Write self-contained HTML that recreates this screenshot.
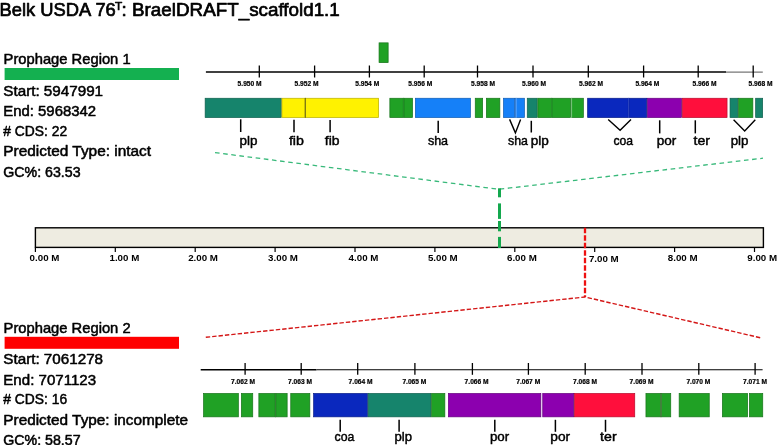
<!DOCTYPE html>
<html lang="en"><head><meta charset="utf-8"><title>Belk USDA 76T prophage regions</title>
<style>html,body{margin:0;padding:0;background:#fff;}svg{display:block;}text{filter:url(#gs);font-family:'Liberation Sans', sans-serif;fill:#000;}</style>
</head><body>
<svg width="778" height="445" viewBox="0 0 778 445">
<defs><filter id="gs" x="-5%" y="-20%" width="110%" height="140%" color-interpolation-filters="sRGB"><feColorMatrix type="saturate" values="0"/></filter></defs>
<rect x="0" y="0" width="778" height="445" fill="#ffffff"/>
<text x="-0.4" y="15.8" font-size="18.7" font-weight="normal" textLength="116.2" lengthAdjust="spacingAndGlyphs" stroke="#000" stroke-width="0.7" stroke-linejoin="round">Belk USDA 76</text>
<text x="115.0" y="9.5" font-size="11.8" font-weight="normal" textLength="7.2" lengthAdjust="spacingAndGlyphs" stroke="#000" stroke-width="0.7" stroke-linejoin="round">T</text>
<text x="121.6" y="15.8" font-size="18.7" font-weight="normal" textLength="218.2" lengthAdjust="spacingAndGlyphs" stroke="#000" stroke-width="0.7" stroke-linejoin="round">: BraelDRAFT_scaffold1.1</text>
<text x="3.6" y="64.2" font-size="14.6" font-weight="normal" textLength="127.0" lengthAdjust="spacingAndGlyphs" stroke="#000" stroke-width="0.5" stroke-linejoin="round">Prophage Region 1</text>
<rect x="4.6" y="68.0" width="174.4" height="12.0" fill="#14b050" />
<text x="3.3" y="95.6" font-size="14" font-weight="normal" textLength="99.8" lengthAdjust="spacingAndGlyphs" stroke="#000" stroke-width="0.5" stroke-linejoin="round">Start: 5947991</text>
<text x="3.3" y="116.0" font-size="14" font-weight="normal" textLength="92.8" lengthAdjust="spacingAndGlyphs" stroke="#000" stroke-width="0.5" stroke-linejoin="round">End: 5968342</text>
<text x="3.3" y="135.6" font-size="14" font-weight="normal" textLength="63.8" lengthAdjust="spacingAndGlyphs" stroke="#000" stroke-width="0.5" stroke-linejoin="round"># CDS: 22</text>
<text x="3.3" y="156.3" font-size="14" font-weight="normal" textLength="147.8" lengthAdjust="spacingAndGlyphs" stroke="#000" stroke-width="0.5" stroke-linejoin="round">Predicted Type: intact</text>
<text x="3.3" y="176.6" font-size="14" font-weight="normal" textLength="77.3" lengthAdjust="spacingAndGlyphs" stroke="#000" stroke-width="0.5" stroke-linejoin="round">GC%: 63.53</text>
<text x="3.6" y="333.0" font-size="14.6" font-weight="normal" textLength="127.0" lengthAdjust="spacingAndGlyphs" stroke="#000" stroke-width="0.5" stroke-linejoin="round">Prophage Region 2</text>
<rect x="4.6" y="336.8" width="174.4" height="12.0" fill="#ff0000" />
<text x="3.3" y="364.4" font-size="14" font-weight="normal" textLength="99.8" lengthAdjust="spacingAndGlyphs" stroke="#000" stroke-width="0.5" stroke-linejoin="round">Start: 7061278</text>
<text x="3.3" y="384.8" font-size="14" font-weight="normal" textLength="92.8" lengthAdjust="spacingAndGlyphs" stroke="#000" stroke-width="0.5" stroke-linejoin="round">End: 7071123</text>
<text x="3.3" y="404.4" font-size="14" font-weight="normal" textLength="63.8" lengthAdjust="spacingAndGlyphs" stroke="#000" stroke-width="0.5" stroke-linejoin="round"># CDS: 16</text>
<text x="3.3" y="425.1" font-size="14" font-weight="normal" textLength="184.8" lengthAdjust="spacingAndGlyphs" stroke="#000" stroke-width="0.5" stroke-linejoin="round">Predicted Type: incomplete</text>
<text x="3.3" y="445.4" font-size="14" font-weight="normal" textLength="77.3" lengthAdjust="spacingAndGlyphs" stroke="#000" stroke-width="0.5" stroke-linejoin="round">GC%: 58.57</text>
<line x1="205.9" y1="72.1" x2="726.0" y2="72.1" stroke="#000" stroke-width="1.5" />
<line x1="726.0" y1="72.1" x2="762.8" y2="72.1" stroke="#777" stroke-width="1.1" />
<line x1="259.3" y1="65.5" x2="259.3" y2="77.5" stroke="#000" stroke-width="1.3" />
<text x="237.6" y="86.0" font-size="6.6" font-weight="bold" textLength="24.0" lengthAdjust="spacingAndGlyphs" stroke="#000" stroke-width="0.2">5.950 M</text>
<line x1="314.6" y1="65.5" x2="314.6" y2="77.5" stroke="#000" stroke-width="1.3" />
<text x="294.5" y="86.0" font-size="6.6" font-weight="bold" textLength="24.0" lengthAdjust="spacingAndGlyphs" stroke="#000" stroke-width="0.2">5.952 M</text>
<line x1="369.4" y1="65.5" x2="369.4" y2="77.5" stroke="#000" stroke-width="1.3" />
<text x="355.2" y="86.0" font-size="6.6" font-weight="bold" textLength="24.0" lengthAdjust="spacingAndGlyphs" stroke="#000" stroke-width="0.2">5.954 M</text>
<line x1="424.2" y1="65.5" x2="424.2" y2="77.5" stroke="#000" stroke-width="1.3" />
<text x="408.3" y="86.0" font-size="6.6" font-weight="bold" textLength="24.0" lengthAdjust="spacingAndGlyphs" stroke="#000" stroke-width="0.2">5.956 M</text>
<line x1="477.5" y1="65.5" x2="477.5" y2="77.5" stroke="#000" stroke-width="1.3" />
<text x="471.0" y="86.0" font-size="6.6" font-weight="bold" textLength="24.0" lengthAdjust="spacingAndGlyphs" stroke="#000" stroke-width="0.2">5.958 M</text>
<line x1="533.0" y1="65.5" x2="533.0" y2="77.5" stroke="#000" stroke-width="1.3" />
<text x="522.0" y="86.0" font-size="6.6" font-weight="bold" textLength="24.0" lengthAdjust="spacingAndGlyphs" stroke="#000" stroke-width="0.2">5.960 M</text>
<line x1="588.3" y1="65.5" x2="588.3" y2="77.5" stroke="#000" stroke-width="1.3" />
<text x="579.0" y="86.0" font-size="6.6" font-weight="bold" textLength="24.0" lengthAdjust="spacingAndGlyphs" stroke="#000" stroke-width="0.2">5.962 M</text>
<line x1="643.6" y1="65.5" x2="643.6" y2="77.5" stroke="#000" stroke-width="1.3" />
<text x="635.4" y="86.0" font-size="6.6" font-weight="bold" textLength="24.0" lengthAdjust="spacingAndGlyphs" stroke="#000" stroke-width="0.2">5.964 M</text>
<line x1="698.2" y1="65.5" x2="698.2" y2="77.5" stroke="#000" stroke-width="1.3" />
<text x="692.5" y="86.0" font-size="6.6" font-weight="bold" textLength="24.0" lengthAdjust="spacingAndGlyphs" stroke="#000" stroke-width="0.2">5.966 M</text>
<line x1="753.2" y1="65.5" x2="753.2" y2="77.5" stroke="#000" stroke-width="1.3" />
<text x="748.5" y="86.0" font-size="6.6" font-weight="bold" textLength="24.0" lengthAdjust="spacingAndGlyphs" stroke="#000" stroke-width="0.2">5.968 M</text>
<rect x="379.05" y="42.85" width="9.10" height="19.80" fill="#20a125" stroke="#17731a" stroke-width="0.7"/>
<rect x="205.15" y="98.25" width="76.10" height="19.30" fill="#16846c" stroke="#0f5f4d" stroke-width="0.7"/>
<rect x="281.95" y="98.25" width="23.00" height="19.30" fill="#fff200" stroke="#b7ae00" stroke-width="0.7"/>
<rect x="305.65" y="98.25" width="73.00" height="19.30" fill="#fff200" stroke="#b7ae00" stroke-width="0.7"/>
<rect x="389.85" y="98.25" width="13.40" height="19.30" fill="#20a125" stroke="#17731a" stroke-width="0.7"/>
<rect x="403.95" y="98.25" width="8.60" height="19.30" fill="#20a125" stroke="#17731a" stroke-width="0.7"/>
<rect x="415.35" y="98.25" width="55.10" height="19.30" fill="#1580f8" stroke="#0f5cb2" stroke-width="0.7"/>
<rect x="475.25" y="98.25" width="7.40" height="19.30" fill="#20a125" stroke="#17731a" stroke-width="0.7"/>
<rect x="486.35" y="98.25" width="13.50" height="19.30" fill="#20a125" stroke="#17731a" stroke-width="0.7"/>
<rect x="503.45" y="98.25" width="11.20" height="19.30" fill="#1580f8" stroke="#0f5cb2" stroke-width="0.7"/>
<rect x="515.35" y="98.25" width="9.10" height="19.30" fill="#1580f8" stroke="#0f5cb2" stroke-width="0.7"/>
<rect x="527.25" y="98.25" width="9.90" height="19.30" fill="#16846c" stroke="#0f5f4d" stroke-width="0.7"/>
<rect x="537.85" y="98.25" width="13.50" height="19.30" fill="#20a125" stroke="#17731a" stroke-width="0.7"/>
<rect x="552.05" y="98.25" width="18.60" height="19.30" fill="#20a125" stroke="#17731a" stroke-width="0.7"/>
<rect x="571.35" y="98.25" width="12.00" height="19.30" fill="#20a125" stroke="#17731a" stroke-width="0.7"/>
<rect x="587.65" y="98.25" width="40.60" height="19.30" fill="#0a28be" stroke="#071c88" stroke-width="0.7"/>
<rect x="628.95" y="98.25" width="17.70" height="19.30" fill="#0a28be" stroke="#071c88" stroke-width="0.7"/>
<rect x="647.35" y="98.25" width="34.20" height="19.30" fill="#8c00af" stroke="#64007e" stroke-width="0.7"/>
<rect x="682.25" y="98.25" width="44.80" height="19.30" fill="#ff0f3c" stroke="#b70a2b" stroke-width="0.7"/>
<rect x="730.05" y="98.25" width="7.80" height="19.30" fill="#16846c" stroke="#0f5f4d" stroke-width="0.7"/>
<rect x="738.55" y="98.25" width="14.30" height="19.30" fill="#20a125" stroke="#17731a" stroke-width="0.7"/>
<rect x="755.65" y="98.25" width="7.00" height="19.30" fill="#16846c" stroke="#0f5f4d" stroke-width="0.7"/>
<line x1="305.3" y1="97.9" x2="305.3" y2="117.9" stroke="#55540a" stroke-width="0.8" />
<line x1="403.6" y1="97.9" x2="403.6" y2="117.9" stroke="#1b8a20" stroke-width="0.8" />
<line x1="516.2" y1="97.9" x2="516.2" y2="117.9" stroke="#6db0ff" stroke-width="0.8" />
<line x1="551.7" y1="97.9" x2="551.7" y2="117.9" stroke="#1c9422" stroke-width="0.8" />
<line x1="571.6" y1="97.9" x2="571.6" y2="117.9" stroke="#8fd492" stroke-width="0.8" />
<line x1="628.6" y1="97.9" x2="628.6" y2="117.9" stroke="#2a44c8" stroke-width="0.8" />
<line x1="240.7" y1="119.3" x2="240.7" y2="132.0" stroke="#000" stroke-width="1.5" />
<line x1="294.0" y1="119.7" x2="294.0" y2="132.2" stroke="#000" stroke-width="1.5" />
<line x1="330.1" y1="120.0" x2="330.1" y2="132.2" stroke="#000" stroke-width="1.5" />
<line x1="438.2" y1="120.8" x2="438.2" y2="132.9" stroke="#000" stroke-width="1.5" />
<line x1="531.3" y1="120.8" x2="531.3" y2="132.5" stroke="#000" stroke-width="1.5" />
<line x1="659.7" y1="120.3" x2="659.7" y2="133.4" stroke="#000" stroke-width="1.5" />
<line x1="695.3" y1="120.3" x2="695.3" y2="133.4" stroke="#000" stroke-width="1.5" />
<polyline points="509.6,119.4 515.4,132.9 520.6,119.4" fill="none" stroke="#000" stroke-width="1.4"/>
<polyline points="608.2,119.4 620.1,130.2 631.0,119.4" fill="none" stroke="#000" stroke-width="1.4"/>
<polyline points="733.6,119.8 744.7,130.9 755.3,119.8" fill="none" stroke="#000" stroke-width="1.4"/>
<text x="239.5" y="144.8" font-size="13" font-weight="normal" textLength="17.9" lengthAdjust="spacingAndGlyphs" stroke="#000" stroke-width="0.45" stroke-linejoin="round">plp</text>
<text x="288.9" y="144.8" font-size="13" font-weight="normal" textLength="15.0" lengthAdjust="spacingAndGlyphs" stroke="#000" stroke-width="0.45" stroke-linejoin="round">fib</text>
<text x="324.8" y="144.8" font-size="13" font-weight="normal" textLength="14.7" lengthAdjust="spacingAndGlyphs" stroke="#000" stroke-width="0.45" stroke-linejoin="round">fib</text>
<text x="427.9" y="144.8" font-size="13" font-weight="normal" textLength="20.2" lengthAdjust="spacingAndGlyphs" stroke="#000" stroke-width="0.45" stroke-linejoin="round">sha</text>
<text x="508.0" y="144.8" font-size="13" font-weight="normal" textLength="19.9" lengthAdjust="spacingAndGlyphs" stroke="#000" stroke-width="0.45" stroke-linejoin="round">sha</text>
<text x="530.7" y="144.8" font-size="13" font-weight="normal" textLength="18.1" lengthAdjust="spacingAndGlyphs" stroke="#000" stroke-width="0.45" stroke-linejoin="round">plp</text>
<text x="613.4" y="144.8" font-size="13" font-weight="normal" textLength="19.6" lengthAdjust="spacingAndGlyphs" stroke="#000" stroke-width="0.45" stroke-linejoin="round">coa</text>
<text x="656.8" y="144.8" font-size="13" font-weight="normal" textLength="19.6" lengthAdjust="spacingAndGlyphs" stroke="#000" stroke-width="0.45" stroke-linejoin="round">por</text>
<text x="693.5" y="144.8" font-size="13" font-weight="normal" textLength="16.5" lengthAdjust="spacingAndGlyphs" stroke="#000" stroke-width="0.45" stroke-linejoin="round">ter</text>
<text x="730.7" y="144.8" font-size="13" font-weight="normal" textLength="17.8" lengthAdjust="spacingAndGlyphs" stroke="#000" stroke-width="0.45" stroke-linejoin="round">plp</text>
<polyline points="215,152.6 498.7,189.3 763,158.2" fill="none" stroke="#38b97a" stroke-width="1.3" stroke-dasharray="4.6 3.6"/>
<rect x="35.4" y="227.8" width="728" height="19.6" fill="#eeece1" stroke="#000" stroke-width="1.4"/>
<line x1="35.4" y1="247.4" x2="35.4" y2="252.0" stroke="#000" stroke-width="1.2" />
<text x="29.6" y="261.3" font-size="8.5" font-weight="bold" textLength="29.8" lengthAdjust="spacingAndGlyphs" >0.00 M</text>
<line x1="115.3" y1="247.4" x2="115.3" y2="252.0" stroke="#000" stroke-width="1.2" />
<text x="109.5" y="261.3" font-size="8.5" font-weight="bold" textLength="29.8" lengthAdjust="spacingAndGlyphs" >1.00 M</text>
<line x1="195.2" y1="247.4" x2="195.2" y2="252.0" stroke="#000" stroke-width="1.2" />
<text x="188.2" y="261.3" font-size="8.5" font-weight="bold" textLength="29.8" lengthAdjust="spacingAndGlyphs" >2.00 M</text>
<line x1="275.1" y1="247.4" x2="275.1" y2="252.0" stroke="#000" stroke-width="1.2" />
<text x="268.1" y="261.3" font-size="8.5" font-weight="bold" textLength="29.8" lengthAdjust="spacingAndGlyphs" >3.00 M</text>
<line x1="355.0" y1="247.4" x2="355.0" y2="252.0" stroke="#000" stroke-width="1.2" />
<text x="348.6" y="261.3" font-size="8.5" font-weight="bold" textLength="29.8" lengthAdjust="spacingAndGlyphs" >4.00 M</text>
<line x1="434.9" y1="247.4" x2="434.9" y2="252.0" stroke="#000" stroke-width="1.2" />
<text x="427.9" y="261.3" font-size="8.5" font-weight="bold" textLength="29.8" lengthAdjust="spacingAndGlyphs" >5.00 M</text>
<line x1="514.8" y1="247.4" x2="514.8" y2="252.0" stroke="#000" stroke-width="1.2" />
<text x="507.0" y="261.3" font-size="8.5" font-weight="bold" textLength="29.8" lengthAdjust="spacingAndGlyphs" >6.00 M</text>
<line x1="594.7" y1="247.4" x2="594.7" y2="252.0" stroke="#000" stroke-width="1.2" />
<text x="588.9" y="262.2" font-size="8.5" font-weight="bold" textLength="29.8" lengthAdjust="spacingAndGlyphs" >7.00 M</text>
<line x1="674.6" y1="247.4" x2="674.6" y2="252.0" stroke="#000" stroke-width="1.2" />
<text x="667.8" y="261.3" font-size="8.5" font-weight="bold" textLength="29.8" lengthAdjust="spacingAndGlyphs" >8.00 M</text>
<line x1="754.5" y1="247.4" x2="754.5" y2="252.0" stroke="#000" stroke-width="1.2" />
<text x="747.3" y="261.3" font-size="8.5" font-weight="bold" textLength="29.8" lengthAdjust="spacingAndGlyphs" >9.00 M</text>
<rect x="498.0" y="188.3" width="3.0" height="9.0" fill="#14a84e" />
<rect x="498.0" y="203.4" width="3.0" height="15.5" fill="#14a84e" />
<rect x="498.0" y="221.0" width="3.0" height="10.3" fill="#14a84e" />
<rect x="498.0" y="236.9" width="3.0" height="11.1" fill="#14a84e" />
<line x1="585.0" y1="227.8" x2="585.0" y2="297.0" stroke="#ee1111" stroke-width="2.3" stroke-dasharray="5.5 2"/>
<polyline points="205.8,337.3 585,297 761,337.9" fill="none" stroke="#d41616" stroke-width="1.4" stroke-dasharray="4.4 2"/>
<line x1="200.7" y1="369.7" x2="316.4" y2="369.7" stroke="#000" stroke-width="1.5" />
<line x1="316.4" y1="369.7" x2="762.6" y2="369.7" stroke="#000" stroke-width="1.15" />
<line x1="245.1" y1="363.0" x2="245.1" y2="374.8" stroke="#000" stroke-width="1.3" />
<text x="231.0" y="383.6" font-size="6.6" font-weight="bold" textLength="24.0" lengthAdjust="spacingAndGlyphs" stroke="#000" stroke-width="0.2">7.062 M</text>
<line x1="301.2" y1="363.0" x2="301.2" y2="374.8" stroke="#000" stroke-width="1.3" />
<text x="288.0" y="383.6" font-size="6.6" font-weight="bold" textLength="24.0" lengthAdjust="spacingAndGlyphs" stroke="#000" stroke-width="0.2">7.063 M</text>
<line x1="357.7" y1="363.0" x2="357.7" y2="374.8" stroke="#000" stroke-width="1.3" />
<text x="348.6" y="383.6" font-size="6.6" font-weight="bold" textLength="24.0" lengthAdjust="spacingAndGlyphs" stroke="#000" stroke-width="0.2">7.064 M</text>
<line x1="414.9" y1="363.0" x2="414.9" y2="374.8" stroke="#000" stroke-width="1.3" />
<text x="402.4" y="383.6" font-size="6.6" font-weight="bold" textLength="24.0" lengthAdjust="spacingAndGlyphs" stroke="#000" stroke-width="0.2">7.065 M</text>
<line x1="472.4" y1="363.0" x2="472.4" y2="374.8" stroke="#000" stroke-width="1.3" />
<text x="464.6" y="383.6" font-size="6.6" font-weight="bold" textLength="24.0" lengthAdjust="spacingAndGlyphs" stroke="#000" stroke-width="0.2">7.066 M</text>
<line x1="528.4" y1="363.0" x2="528.4" y2="374.8" stroke="#000" stroke-width="1.3" />
<text x="516.2" y="383.6" font-size="6.6" font-weight="bold" textLength="24.0" lengthAdjust="spacingAndGlyphs" stroke="#000" stroke-width="0.2">7.067 M</text>
<line x1="585.2" y1="363.0" x2="585.2" y2="374.8" stroke="#000" stroke-width="1.3" />
<text x="573.0" y="383.6" font-size="6.6" font-weight="bold" textLength="24.0" lengthAdjust="spacingAndGlyphs" stroke="#000" stroke-width="0.2">7.068 M</text>
<line x1="642.0" y1="363.0" x2="642.0" y2="374.8" stroke="#000" stroke-width="1.3" />
<text x="629.6" y="383.6" font-size="6.6" font-weight="bold" textLength="24.0" lengthAdjust="spacingAndGlyphs" stroke="#000" stroke-width="0.2">7.069 M</text>
<line x1="698.8" y1="363.0" x2="698.8" y2="374.8" stroke="#000" stroke-width="1.3" />
<text x="686.4" y="383.6" font-size="6.6" font-weight="bold" textLength="24.0" lengthAdjust="spacingAndGlyphs" stroke="#000" stroke-width="0.2">7.070 M</text>
<line x1="755.1" y1="363.0" x2="755.1" y2="374.8" stroke="#000" stroke-width="1.3" />
<text x="743.0" y="383.6" font-size="6.6" font-weight="bold" textLength="24.0" lengthAdjust="spacingAndGlyphs" stroke="#000" stroke-width="0.2">7.071 M</text>
<rect x="203.55" y="393.45" width="34.80" height="23.40" fill="#20a125" stroke="#17731a" stroke-width="0.7"/>
<rect x="241.35" y="393.45" width="11.40" height="23.40" fill="#20a125" stroke="#17731a" stroke-width="0.7"/>
<rect x="258.85" y="393.45" width="16.30" height="23.40" fill="#20a125" stroke="#17731a" stroke-width="0.7"/>
<rect x="275.85" y="393.45" width="11.30" height="23.40" fill="#20a125" stroke="#17731a" stroke-width="0.7"/>
<rect x="290.75" y="393.45" width="19.10" height="23.40" fill="#20a125" stroke="#17731a" stroke-width="0.7"/>
<rect x="313.65" y="393.45" width="53.80" height="23.40" fill="#0a28be" stroke="#071c88" stroke-width="0.7"/>
<rect x="368.15" y="393.45" width="62.80" height="23.40" fill="#16846c" stroke="#0f5f4d" stroke-width="0.7"/>
<rect x="431.65" y="393.45" width="13.20" height="23.40" fill="#20a125" stroke="#17731a" stroke-width="0.7"/>
<rect x="448.35" y="393.45" width="92.30" height="23.40" fill="#8c00af" stroke="#64007e" stroke-width="0.7"/>
<rect x="541.0" y="393.1" width="1.4" height="24.1" fill="#e3c6ee" />
<rect x="542.75" y="393.45" width="30.90" height="23.40" fill="#8c00af" stroke="#64007e" stroke-width="0.7"/>
<rect x="574.35" y="393.45" width="60.40" height="23.40" fill="#ff0f3c" stroke="#b70a2b" stroke-width="0.7"/>
<rect x="645.95" y="393.45" width="14.70" height="23.40" fill="#20a125" stroke="#17731a" stroke-width="0.7"/>
<rect x="661.35" y="393.45" width="9.40" height="23.40" fill="#20a125" stroke="#17731a" stroke-width="0.7"/>
<rect x="679.15" y="393.45" width="30.10" height="23.40" fill="#20a125" stroke="#17731a" stroke-width="0.7"/>
<rect x="722.35" y="393.45" width="25.30" height="23.40" fill="#20a125" stroke="#17731a" stroke-width="0.7"/>
<rect x="749.35" y="393.45" width="13.40" height="23.40" fill="#20a125" stroke="#17731a" stroke-width="0.7"/>
<line x1="275.5" y1="393.1" x2="275.5" y2="417.2" stroke="#2d7d2d" stroke-width="0.8" />
<line x1="661.0" y1="393.1" x2="661.0" y2="417.2" stroke="#5a7a4a" stroke-width="0.8" />
<line x1="340.2" y1="419.8" x2="340.2" y2="431.8" stroke="#000" stroke-width="1.5" />
<line x1="399.1" y1="419.8" x2="399.1" y2="431.8" stroke="#000" stroke-width="1.5" />
<line x1="494.8" y1="419.8" x2="494.8" y2="431.8" stroke="#000" stroke-width="1.5" />
<line x1="555.4" y1="419.8" x2="555.4" y2="431.8" stroke="#000" stroke-width="1.5" />
<line x1="605.5" y1="419.8" x2="605.5" y2="431.8" stroke="#000" stroke-width="1.5" />
<text x="334.6" y="441.0" font-size="13" font-weight="normal" textLength="19.8" lengthAdjust="spacingAndGlyphs" stroke="#000" stroke-width="0.45" stroke-linejoin="round">coa</text>
<text x="394.5" y="441.0" font-size="13" font-weight="normal" textLength="17.5" lengthAdjust="spacingAndGlyphs" stroke="#000" stroke-width="0.45" stroke-linejoin="round">plp</text>
<text x="489.9" y="441.0" font-size="13" font-weight="normal" textLength="19.3" lengthAdjust="spacingAndGlyphs" stroke="#000" stroke-width="0.45" stroke-linejoin="round">por</text>
<text x="550.3" y="441.0" font-size="13" font-weight="normal" textLength="19.8" lengthAdjust="spacingAndGlyphs" stroke="#000" stroke-width="0.45" stroke-linejoin="round">por</text>
<text x="600.1" y="441.0" font-size="13" font-weight="normal" textLength="16.5" lengthAdjust="spacingAndGlyphs" stroke="#000" stroke-width="0.45" stroke-linejoin="round">ter</text>
</svg>
</body></html>
